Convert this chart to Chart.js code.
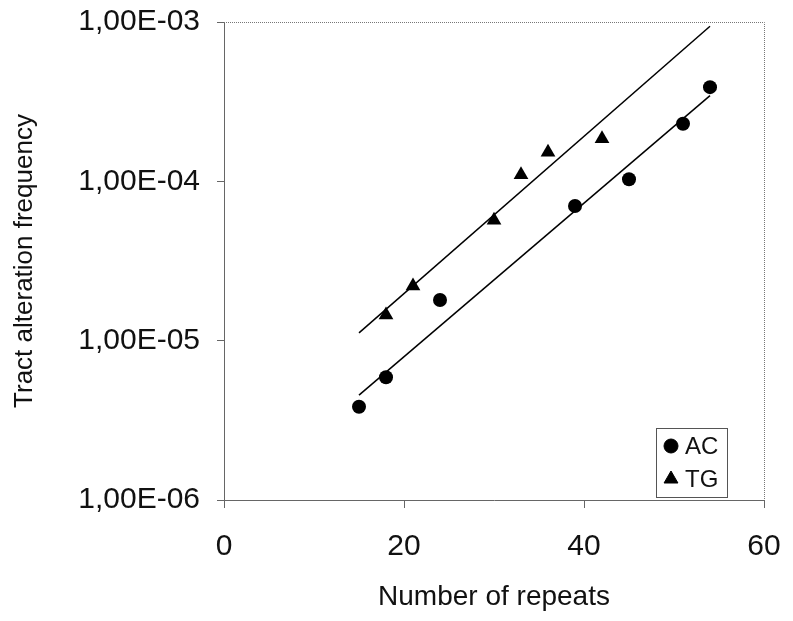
<!DOCTYPE html>
<html>
<head>
<meta charset="utf-8">
<script src="https://cdn.jsdelivr.net/npm/chart.js@4/dist/chart.umd.min.js"></script>
<style>
  html, body { margin: 0; padding: 0; background: #fff; }
  #wrap { width: 793px; height: 621px; }
</style>
</head>
<body>
<div id="wrap"><canvas id="repeatChart" width="793" height="621"></canvas></div>
<script>
// values
const acRepeats = [15, 18, 24, 39, 45, 51, 54];
const acFreq = [3.85e-6, 5.9e-6, 1.8e-5, 7.0e-5, 1.03e-4, 2.3e-4, 3.9e-4];
const tgRepeats = [18, 21, 30, 33, 36, 42];
const tgFreq = [1.45e-5, 2.2e-5, 5.7e-5, 1.1e-4, 1.52e-4, 1.85e-4];

// fitted lines (two end points each)
const fitRepeats = [15, 54];
const acFit = [4.55e-6, 3.45e-4];
const tgFit = [1.12e-5, 9.4e-4];

const xTicks = [0, 20, 40, 60];
const yTickValues = [1e-6, 1e-5, 1e-4, 1e-3];
const yTickLabels = ['1,00E-06', '1,00E-05', '1,00E-04', '1,00E-03'];

const toPoints = (xs, ys) => xs.map((x, i) => ({ x: x, y: ys[i] }));

const textColor = '#111';
const axisColor = '#666';
const fontFamily = '"Liberation Sans", Arial, sans-serif';

// dotted frame on the top and right of the plot area
const frame = {
    id: 'frame',
    afterDraw(chart) {
        const { ctx, chartArea: a } = chart;
        ctx.save();
        ctx.strokeStyle = '#777';
        ctx.lineWidth = 1;
        ctx.setLineDash([1, 1]);
        ctx.beginPath();
        ctx.moveTo(a.left, a.top + 0.5);
        ctx.lineTo(a.right + 0.5, a.top + 0.5);
        ctx.lineTo(a.right + 0.5, a.bottom);
        ctx.stroke();
        ctx.restore();
    }
};

// legend box inside the plot, lower right
const boxLegend = {
    id: 'boxLegend',
    afterDraw(chart) {
        const { ctx } = chart;
        const x0 = 656, y0 = 428, w = 71, h = 69;
        ctx.save();
        ctx.fillStyle = '#fff';
        ctx.fillRect(x0, y0, w, h);
        ctx.strokeStyle = '#555';
        ctx.lineWidth = 1;
        ctx.strokeRect(x0 + 0.5, y0 + 0.5, w, h);
        ctx.font = '24px ' + fontFamily;
        ctx.textBaseline = 'middle';
        [0, 1].forEach((i, k) => {
            const ds = chart.data.datasets[i];
            const cy = y0 + 18 + k * 33;
            ctx.fillStyle = '#000';
            ctx.strokeStyle = '#000';
            Chart.helpers.drawPoint(ctx, {
                pointStyle: ds.pointStyle,
                radius: k === 0 ? 7 : 8,
                borderWidth: 1
            }, x0 + 15, cy);
            ctx.fillStyle = textColor;
            ctx.fillText(ds.label, x0 + 29, cy + 1);
        });
        ctx.restore();
    }
};

// keep the plot area fixed: no extra room for overhanging labels
const fixPadding = (scale) => {
    scale.paddingTop = 0;
    scale.paddingBottom = 0;
    scale.paddingLeft = 0;
    scale.paddingRight = 0;
};

const ctx = document.getElementById('repeatChart').getContext('2d');
const repeatChart = new Chart(ctx, {
    type: 'scatter',
    data: {
        datasets: [{
            label: 'AC',
            data: toPoints(acRepeats, acFreq),
            pointStyle: 'circle',
            pointRadius: 7,
            backgroundColor: '#000',
            borderColor: '#000',
            borderWidth: 0
        }, {
            label: 'TG',
            data: toPoints(tgRepeats, tgFreq),
            pointStyle: 'triangle',
            pointRadius: 8.5,
            backgroundColor: '#000',
            borderColor: '#000',
            borderWidth: 0
        }, {
            label: 'AC fit',
            type: 'line',
            data: toPoints(fitRepeats, acFit),
            borderColor: '#000',
            borderWidth: 1.5,
            pointRadius: 0,
            fill: false
        }, {
            label: 'TG fit',
            type: 'line',
            data: toPoints(fitRepeats, tgFit),
            borderColor: '#000',
            borderWidth: 1.5,
            pointRadius: 0,
            fill: false
        }]
    },
    options: {
        responsive: false,
        animation: false,
        layout: {
            padding: { top: 22, right: 29, left: 0, bottom: 0 }
        },
        plugins: {
            legend: { display: false },
            tooltip: { enabled: false }
        },
        scales: {
            x: {
                type: 'linear',
                min: 0,
                max: 60,
                afterBuildTicks: (scale) => {
                    scale.ticks = xTicks.map(v => ({ value: v }));
                },
                afterFit: (scale) => {
                    scale.height = 121;
                    fixPadding(scale);
                },
                ticks: {
                    color: textColor,
                    padding: 21,
                    font: { family: fontFamily, size: 30 }
                },
                grid: {
                    drawOnChartArea: false,
                    color: axisColor,
                    tickLength: 8
                },
                border: { color: axisColor, width: 1, dash: [2, 1] },
                title: {
                    display: true,
                    text: 'Number of repeats',
                    color: textColor,
                    padding: { top: 0, bottom: 7 },
                    font: { family: fontFamily, size: 28 }
                }
            },
            y: {
                type: 'logarithmic',
                min: 1e-6,
                max: 1e-3,
                afterBuildTicks: (scale) => {
                    scale.ticks = yTickValues.map(v => ({ value: v }));
                },
                afterFit: (scale) => {
                    scale.width = 224;
                    fixPadding(scale);
                },
                ticks: {
                    color: textColor,
                    padding: 17,
                    font: { family: fontFamily, size: 30 },
                    callback: function(value, index) {
                        return yTickLabels[index];
                    }
                },
                grid: {
                    drawOnChartArea: false,
                    color: axisColor,
                    tickLength: 7
                },
                border: { color: axisColor, width: 1, dash: [2, 1] },
                title: {
                    display: true,
                    text: 'Tract alteration frequency',
                    color: textColor,
                    padding: { top: 9, bottom: 0 },
                    font: { family: fontFamily, size: 26 }
                }
            }
        }
    },
    plugins: [frame, boxLegend]
});
</script>
</body>
</html>
